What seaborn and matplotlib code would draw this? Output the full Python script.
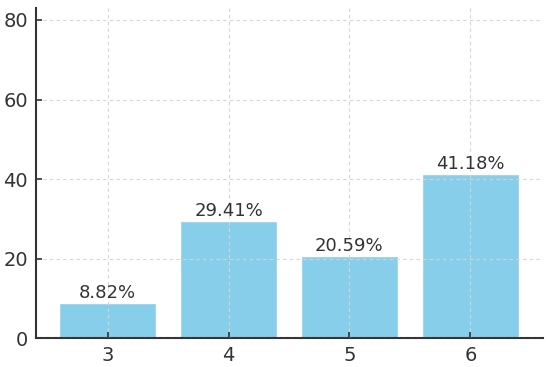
import matplotlib
matplotlib.use("Agg")
import matplotlib.pyplot as plt
import seaborn as sns
import pandas as pd

categories = ["3", "4", "5", "6"]
values = [8.82, 29.41, 20.59, 41.18]
labels = ["8.82%", "29.41%", "20.59%", "41.18%"]

sns.set_style("white")
plt.rcParams['font.family'] = ['DejaVu Sans']

df = pd.DataFrame({"cat": categories, "val": values})
fig = plt.figure(figsize=(5.5, 3.67), dpi=100)
ax = fig.add_axes([0.066, 0.079, 0.921, 0.899])
sns.barplot(data=df, x="cat", y="val", color="#87CEEB", saturation=1, width=0.8, ax=ax, zorder=2)
for p, lab in zip(ax.patches, labels):
    ax.text(p.get_x() + p.get_width() / 2, p.get_height() + 0.3, lab,
            ha="center", va="bottom", fontsize=13, color="#333333")
ax.set_xlim(-0.59, 3.6)
ax.set_ylim(0, 83)
ax.set_yticks([0, 20, 40, 60, 80])
ax.set_xlabel("")
ax.set_ylabel("")
ax.grid(True, linestyle=(0, (3, 3)), color="#d5d5d5", linewidth=0.8, zorder=3)
ax.set_axisbelow(False)
for s in ["top", "right"]:
    ax.spines[s].set_visible(False)
for s in ["left", "bottom"]:
    ax.spines[s].set_color("#333333")
    ax.spines[s].set_linewidth(1.5)
ax.tick_params(axis="both", labelsize=14, colors="#333333", length=4, width=1.2,
               direction="in", left=True, bottom=True, pad=6)
fig.savefig("out.png", dpi=100)
